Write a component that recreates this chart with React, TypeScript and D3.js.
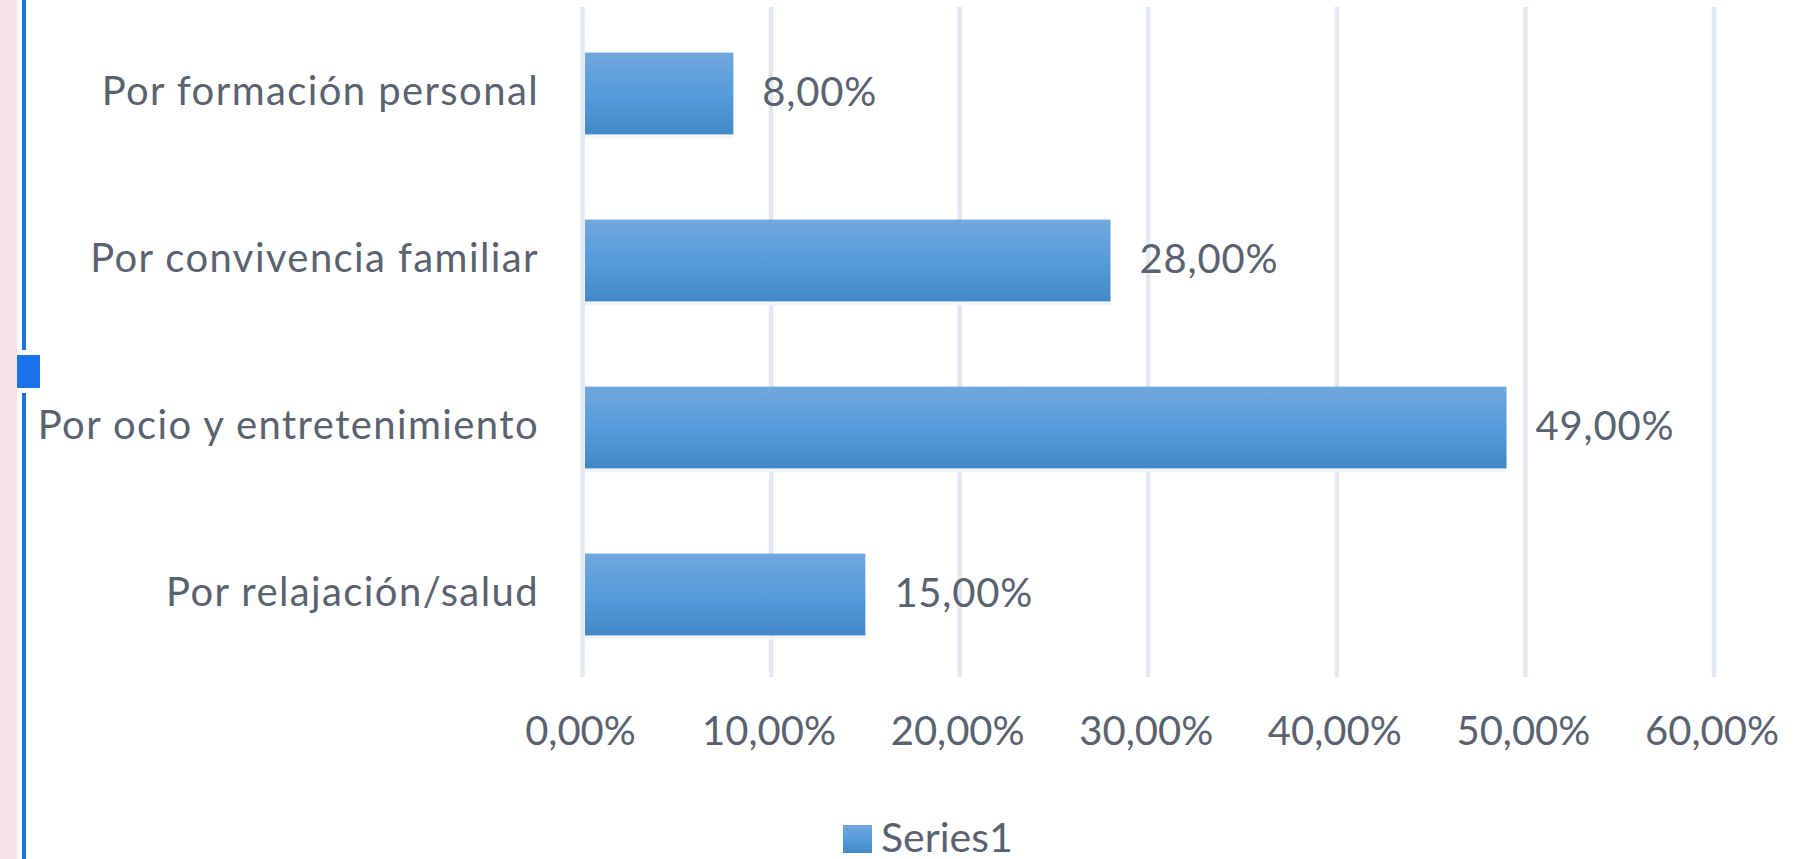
import * as d3 from "d3";

// categories top to bottom, values in percent
const categories = [
  "Por formación personal",
  "Por convivencia familiar",
  "Por ocio y entretenimiento",
  "Por relajación/salud",
];
const values = [8, 28, 49, 15];
const xTicks = [0, 10, 20, 30, 40, 50, 60];
const seriesName = "Series1";

const W = 1795;
const H = 859;
const FONT = "Lato, 'Open Sans', sans-serif";
const TEXT = "#5a6270";

const fmt = (v: number) => v.toFixed(2).replace(".", ",") + "%";

export default function App() {
  const x = d3.scaleLinear().domain([0, 60]).range([582.5, 1714]);
  const y = d3.scaleBand<string>().domain(categories).range([10, 678]).paddingInner(0.51).paddingOuter(0.255);
  const bh = y.bandwidth();

  return (
    <svg width={W} height={H} style={{ position: "absolute", left: 0, top: 0, background: "#fff" }} fontFamily={FONT}>
      <defs>
        <linearGradient id="barGrad" x1="0" y1="0" x2="0" y2="1">
          <stop offset="0" stopColor="#71a8dd" />
          <stop offset="0.5" stopColor="#569bdb" />
          <stop offset="1" stopColor="#4389c7" />
        </linearGradient>
      </defs>

      {/* page decorations on the left */}
      <rect x={0} y={0} width={17} height={H} fill="#f5e2e8" />
      <rect x={22} y={0} width={4} height={350} fill="#1a73e8" />
      <rect x={22} y={393} width={4} height={H - 393} fill="#1a73e8" />
      <rect x={17} y={355} width={23} height={33} fill="#1a73e8" />

      {/* gridlines */}
      {xTicks.map(t => (
        <line key={t} x1={x(t)} x2={x(t)} y1={7} y2={677} stroke="#e3e7ee" strokeWidth={4.5} />
      ))}

      {/* bars */}
      {categories.map((c, i) => {
        const y0 = y(c)!;
        const x0 = x(0) + 2.5;
        const x1 = x(values[i]);
        return (
          <g key={c}>
            <rect x={x0} y={y0 + bh} width={x1 - x0} height={4} fill="#f2f6fb" />
            <rect x={x0} y={y0} width={x1 - x0} height={bh} fill="url(#barGrad)" />
            <text x={x1 + 29} y={y0 + bh / 2 + 12} fontSize={40} fill={TEXT} letterSpacing={0.8}>
              {fmt(values[i])}
            </text>
            <text x={539} y={y0 + bh / 2 + 11} fontSize={40} fill={TEXT} textAnchor="end" letterSpacing={1.4}>
              {c}
            </text>
          </g>
        );
      })}

      {/* x tick labels */}
      {xTicks.map(t => (
        <text key={t} x={x(t) - 2} y={745} fontSize={40} fill={TEXT} textAnchor="middle">
          {fmt(t)}
        </text>
      ))}

      {/* legend */}
      <rect x={843} y={825} width={29} height={28} fill="url(#barGrad)" />
      <text x={881} y={852} fontSize={41} fill={TEXT}>
        {seriesName}
      </text>
    </svg>
  );
}
